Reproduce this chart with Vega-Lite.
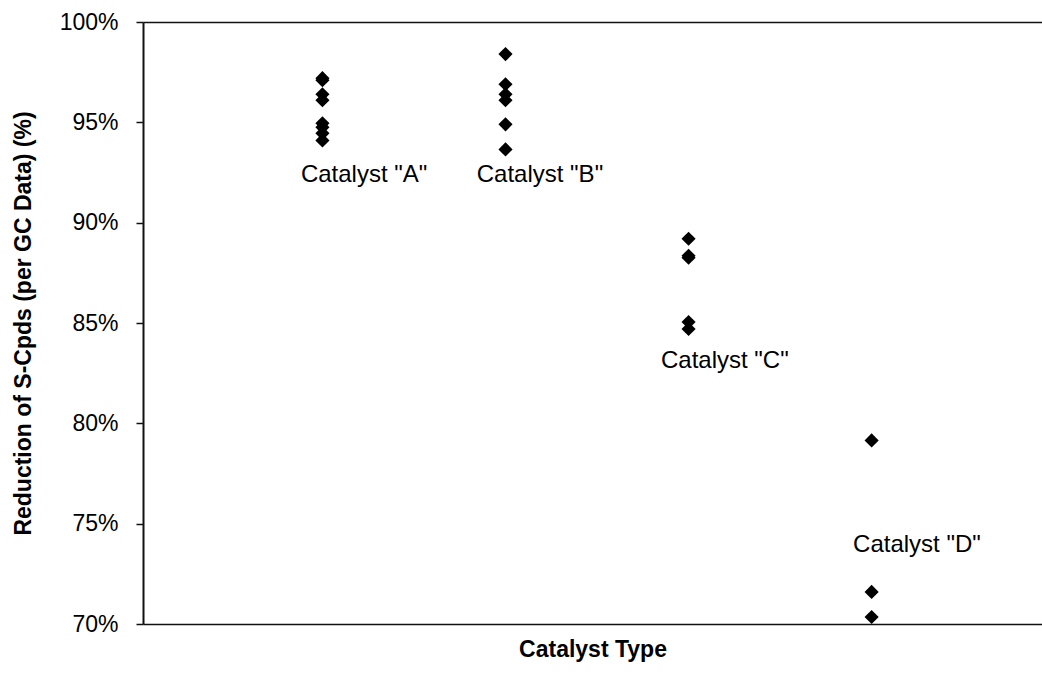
{
  "$schema": "https://vega.github.io/schema/vega-lite/v6.json",
  "width": 899,
  "height": 602,
  "autosize": {"type": "none"},
  "padding": {"left": 143, "top": 22, "right": 0, "bottom": 51},
  "background": "white",
  "config": {
    "view": {"stroke": null},
    "font": "Liberation Sans"
  },
  "resolve": {"axis": {"x": "independent"}},
  "datasets": {
    "points": [
      {"catalyst": "A", "idx": 0.99, "reduction": 97.2},
      {"catalyst": "A", "idx": 0.99, "reduction": 97.1},
      {"catalyst": "A", "idx": 0.99, "reduction": 96.4},
      {"catalyst": "A", "idx": 0.99, "reduction": 96.1},
      {"catalyst": "A", "idx": 0.99, "reduction": 94.95},
      {"catalyst": "A", "idx": 0.99, "reduction": 94.75},
      {"catalyst": "A", "idx": 0.99, "reduction": 94.45},
      {"catalyst": "A", "idx": 0.99, "reduction": 94.1},
      {"catalyst": "B", "idx": 2.0, "reduction": 98.4},
      {"catalyst": "B", "idx": 2.0, "reduction": 96.9},
      {"catalyst": "B", "idx": 2.0, "reduction": 96.4},
      {"catalyst": "B", "idx": 2.0, "reduction": 96.1},
      {"catalyst": "B", "idx": 2.0, "reduction": 94.9},
      {"catalyst": "B", "idx": 2.0, "reduction": 93.65},
      {"catalyst": "C", "idx": 3.01, "reduction": 89.2},
      {"catalyst": "C", "idx": 3.01, "reduction": 88.35},
      {"catalyst": "C", "idx": 3.01, "reduction": 88.25},
      {"catalyst": "C", "idx": 3.01, "reduction": 85.05},
      {"catalyst": "C", "idx": 3.01, "reduction": 84.7},
      {"catalyst": "D", "idx": 4.02, "reduction": 79.15},
      {"catalyst": "D", "idx": 4.02, "reduction": 71.6},
      {"catalyst": "D", "idx": 4.02, "reduction": 70.35}
    ],
    "labels": [
      {"label": "Catalyst \"A\"", "idx": 1.22, "reduction": 92.02},
      {"label": "Catalyst \"B\"", "idx": 2.19, "reduction": 92.02},
      {"label": "Catalyst \"C\"", "idx": 3.21, "reduction": 82.78},
      {"label": "Catalyst \"D\"", "idx": 4.27, "reduction": 73.59}
    ]
  },
  "layer": [
    {
      "data": {"name": "points"},
      "mark": {"type": "point", "shape": "diamond", "filled": true, "color": "#000", "size": 200, "opacity": 1, "clip": false},
      "encoding": {
        "x": {
          "field": "idx", "type": "quantitative",
          "scale": {"domain": [0, 4.96], "nice": false, "zero": false},
          "axis": {
            "orient": "bottom",
            "title": "Catalyst Type", "labels": false, "ticks": false, "grid": false,
            "domain": true, "domainColor": "#111", "domainWidth": 1.6,
            "titleFont": "Liberation Sans", "titleFontSize": 23, "titleFontWeight": "bold",
            "titleColor": "#000", "titlePadding": 14
          }
        },
        "y": {
          "field": "reduction", "type": "quantitative",
          "scale": {"domain": [70, 100], "nice": false, "zero": false},
          "axis": {
            "title": "Reduction of S-Cpds (per GC Data) (%)",
            "values": [70, 75, 80, 85, 90, 95, 100],
            "labelExpr": "datum.value + '%'",
            "grid": false,
            "domainColor": "#111", "domainWidth": 2,
            "tickColor": "#111", "tickWidth": 1.5, "tickSize": 7,
            "labelFont": "Liberation Sans", "labelFontSize": 23, "labelColor": "#000",
            "labelPadding": 18,
            "titleFont": "Liberation Sans", "titleFontSize": 23, "titleFontWeight": "bold",
            "titleColor": "#000", "titlePadding": 24
          }
        }
      }
    },
    {
      "data": {"name": "labels"},
      "mark": {"type": "text", "font": "Liberation Sans", "fontSize": 24, "color": "#000", "align": "center", "baseline": "alphabetic"},
      "encoding": {
        "x": {
          "field": "idx", "type": "quantitative",
          "axis": {
            "orient": "top", "title": null, "labels": false, "ticks": false, "grid": false,
            "domain": true, "domainColor": "#111", "domainWidth": 1.6
          }
        },
        "y": {"field": "reduction", "type": "quantitative"},
        "text": {"field": "label"}
      }
    }
  ]
}
